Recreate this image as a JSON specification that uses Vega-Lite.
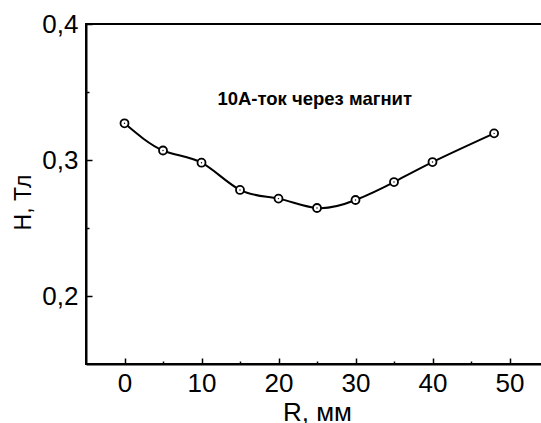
{
  "$schema": "https://vega.github.io/schema/vega-lite/v6.json",
  "autosize": "none",
  "width": 462,
  "height": 340,
  "padding": {"left": 86, "top": 24, "right": 0, "bottom": 59},
  "background": "white",
  "config": {
    "font": "Liberation Sans",
    "view": {"stroke": "black", "strokeWidth": 2}
  },
  "datasets": {
    "pts": [
      {"R": 0, "H": 0.327},
      {"R": 5, "H": 0.307},
      {"R": 10, "H": 0.298},
      {"R": 15, "H": 0.278},
      {"R": 20, "H": 0.2716},
      {"R": 25, "H": 0.2647},
      {"R": 30, "H": 0.2706},
      {"R": 35, "H": 0.2838},
      {"R": 40, "H": 0.2985},
      {"R": 48, "H": 0.3196}
    ],
    "note": [
      {"R": 24.7, "H": 0.345, "label": "10A-ток через магнит"}
    ]
  },
  "layer": [
    {
      "data": {"name": "pts"},
      "mark": {"type": "line", "interpolate": "natural", "color": "black", "strokeWidth": 2},
      "encoding": {
        "x": {
          "field": "R", "type": "quantitative",
          "scale": {"domain": [-5, 55], "nice": false, "zero": false},
          "axis": {
            "title": "R, мм",
            "titleFontSize": 26,
            "titleFontWeight": "normal",
            "titleColor": "black",
            "titlePadding": 0,
            "values": [0, 5, 10, 15, 20, 25, 30, 35, 40, 45, 50],
            "labelExpr": "datum.value % 10 === 0 ? datum.label : ''",
            "labelFontSize": 26,
            "labelColor": "black",
            "labelPadding": 12,
            "labelFlush": false,
            "labelOverlap": false,
            "grid": false,
            "domainColor": "black",
            "domainWidth": 2,
            "tickColor": "black",
            "tickWidth": 1.5,
            "tickSize": {"condition": {"test": "datum.value % 10 === 0", "value": -6}, "value": -3}
          }
        },
        "y": {
          "field": "H", "type": "quantitative",
          "scale": {"domain": [0.15, 0.4], "nice": false, "zero": false},
          "axis": {
            "title": "H, Тл",
            "titleFontSize": 23,
            "titleFontWeight": "normal",
            "titleColor": "black",
            "titlePadding": 6,
            "titleY": 178,
            "values": [0.2, 0.25, 0.3, 0.35, 0.4],
            "labelExpr": "abs(datum.value * 10 - round(datum.value * 10)) < 0.001 ? replace(format(datum.value, '.1f'), '.', ',') : ''",
            "labelFontSize": 26,
            "labelColor": "black",
            "labelPadding": 14,
            "labelFlush": false,
            "labelOverlap": false,
            "grid": false,
            "domainColor": "black",
            "domainWidth": 2,
            "tickColor": "black",
            "tickWidth": 1.5,
            "tickSize": {"condition": {"test": "abs(datum.value * 10 - round(datum.value * 10)) < 0.001", "value": -6}, "value": -3}
          }
        }
      }
    },
    {
      "data": {"name": "pts"},
      "mark": {"type": "point", "shape": "circle", "filled": false, "fill": "white", "stroke": "black", "strokeWidth": 1.8, "size": 64, "opacity": 1},
      "encoding": {
        "x": {"field": "R", "type": "quantitative"},
        "y": {"field": "H", "type": "quantitative"}
      }
    },
    {
      "data": {"name": "pts"},
      "mark": {"type": "point", "shape": "circle", "filled": true, "color": "black", "size": 2, "opacity": 1},
      "encoding": {
        "x": {"field": "R", "type": "quantitative"},
        "y": {"field": "H", "type": "quantitative"}
      }
    },
    {
      "data": {"name": "note"},
      "mark": {"type": "text", "font": "Liberation Sans", "fontWeight": "bold", "fontSize": 18.5, "color": "black", "align": "center", "baseline": "middle"},
      "encoding": {
        "x": {"field": "R", "type": "quantitative"},
        "y": {"field": "H", "type": "quantitative"},
        "text": {"field": "label"}
      }
    }
  ]
}
